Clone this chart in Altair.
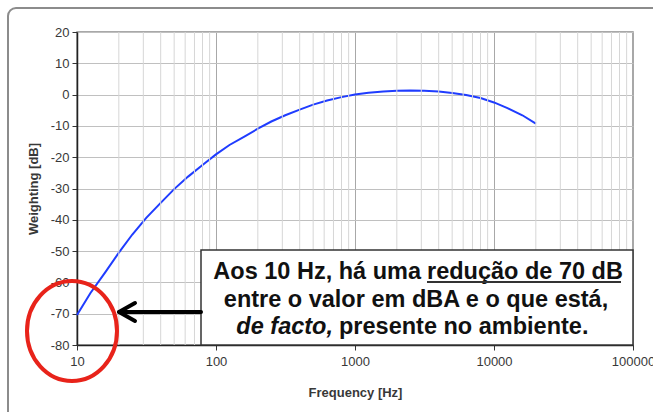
import altair as alt
import pandas as pd

# A-weighting curve
freq = [10, 12.5, 16, 20, 25, 31.5, 40, 50, 63, 80, 100, 125, 160, 200, 250, 315,
        400, 500, 630, 800, 1000, 1250, 1600, 2000, 2500, 3150, 4000, 5000, 6300,
        8000, 10000, 12500, 16000, 20000]
weight = [-70.4, -63.4, -56.7, -50.5, -44.7, -39.4, -34.6, -30.2, -26.2, -22.5,
          -19.1, -16.1, -13.4, -10.9, -8.6, -6.6, -4.8, -3.2, -1.9, -0.8, 0.0,
          0.6, 1.0, 1.2, 1.3, 1.2, 1.0, 0.5, -0.1, -1.1, -2.5, -4.3, -6.6, -9.3]

y_ticks = [-80, -70, -60, -50, -40, -30, -20, -10, 0, 10, 20]
x_major = [10, 100, 1000, 10000, 100000]
x_minor = [20, 30, 40, 50, 60, 70, 80, 90,
           200, 300, 400, 500, 600, 700, 800, 900,
           2000, 3000, 4000, 5000, 6000, 7000, 8000, 9000,
           20000, 30000, 40000, 50000, 60000, 70000, 80000, 90000]

line1a = "Aos 10 Hz, há uma"
line1b = "redução de 70 dB"
line2 = "entre o valor em dBA e o que está,"
line3a = "de facto,"
line3b = "presente no ambiente."

FONT = "Liberation Sans"
W, H = 556, 313
OX, OY = 77, 32

xs = alt.Scale(type="log", domain=[10, 100000], nice=False)
ys = alt.Scale(domain=[-80, 20], nice=False, zero=False)

x_axis = alt.Axis(
    values=x_major, labelExpr="datum.value", grid=True, gridColor="#a8a8a8",
    tickSize=5, tickColor="#333333", domainColor="#222222", domainWidth=1.5,
    labelFont=FONT, labelFontSize=13, labelColor="#383838", labelPadding=5,
    labelFlush=False, labelOverlap=False,
    title="Frequency [Hz]", titleFont=FONT, titleFontSize=13,
    titleFontWeight="bold", titleColor="#383838", titlePadding=18)

y_axis = alt.Axis(
    values=y_ticks, labelExpr="datum.value", grid=True, gridColor="#c0c0c0",
    tickSize=5, tickColor="#333333", domainColor="#222222", domainWidth=1.5,
    labelFont=FONT, labelFontSize=13, labelColor="#383838", labelPadding=3,
    labelOverlap=False,
    title="Weighting [dB]", titleFont=FONT, titleFontSize=13,
    titleFontWeight="bold", titleColor="#383838", titlePadding=10)

curve_df = pd.DataFrame({"f": freq, "w": weight})
minor_df = pd.DataFrame({"f": x_minor})
one = alt.Data(values=[{"a": 1}])

frame = alt.Chart(one).mark_rect(
    fillOpacity=0, stroke="#8c8c8c", strokeWidth=2, cornerRadius=8
).encode(x=alt.value(8 - OX), y=alt.value(8 - OY), x2=alt.value(700), y2=alt.value(450))

curve = alt.Chart(curve_df).mark_line(color="#1f3cff", strokeWidth=2).encode(
    x=alt.X("f:Q", scale=xs, axis=x_axis),
    y=alt.Y("w:Q", scale=ys, axis=y_axis),
)

minor = alt.Chart(minor_df).mark_rule(color="#d6d6d6", strokeWidth=1).encode(
    x=alt.X("f:Q", scale=xs, axis=x_axis),
    y=alt.value(0), y2=alt.value(H),
)

box = alt.Chart(one).mark_rect(fill="white", stroke="#333333", strokeWidth=1.5).encode(
    x=alt.value(201 - OX), x2=alt.value(633 - OX),
    y=alt.value(250 - OY), y2=alt.value(345 - OY),
)

def txt(s, x, y, align, style="normal"):
    return alt.Chart(one).mark_text(
        text=s, font=FONT, fontSize=23.5, fontWeight="bold", fontStyle=style,
        color="#111111", align=align, baseline="alphabetic"
    ).encode(x=alt.value(x - OX), y=alt.value(y - OY))

t1a = txt(line1a, 421, 279, "right")
t1b = txt(line1b, 427, 279, "left")
t2 = txt(line2, 416, 307, "center")
t3a = txt(line3a, 333, 334, "right", "italic")
t3b = txt(line3b, 339, 334, "left")

underline = alt.Chart(one).mark_rule(color="#333333", strokeWidth=2).encode(
    x=alt.value(427 - OX), x2=alt.value(621 - OX), y=alt.value(282 - OY)
)

def seg(x1, y1, x2, y2):
    return alt.Chart(one).mark_rule(color="black", strokeWidth=4, strokeCap="round").encode(
        x=alt.value(x1 - OX), y=alt.value(y1 - OY), x2=alt.value(x2 - OX), y2=alt.value(y2 - OY)
    )

arrow = seg(121, 312, 201, 312) + seg(119, 312, 135, 303) + seg(119, 312, 135, 321)

ellipse = "M -0.9 0 A 0.9 1 0 1 1 0.9 0 A 0.9 1 0 1 1 -0.9 0 Z"
circle = alt.Chart(one).mark_point(
    shape=ellipse, size=10000, stroke="#e8231a", strokeWidth=4, filled=False, opacity=1
).encode(x=alt.value(72 - OX), y=alt.value(331 - OY))

chart = alt.layer(
    frame, curve, minor, box, t1a, t1b, t2, t3a, t3b, underline, arrow, circle
).properties(
    width=W, height=H,
    autosize=alt.AutoSizeParams(type="none"),
    padding={"left": OX, "top": OY, "right": 653 - OX - W, "bottom": 412 - OY - H},
    background="white",
).configure_view(stroke="#8c8c8c", strokeWidth=1.5)

chart.save("out.html", embed_options={"renderer": "svg", "actions": False})
